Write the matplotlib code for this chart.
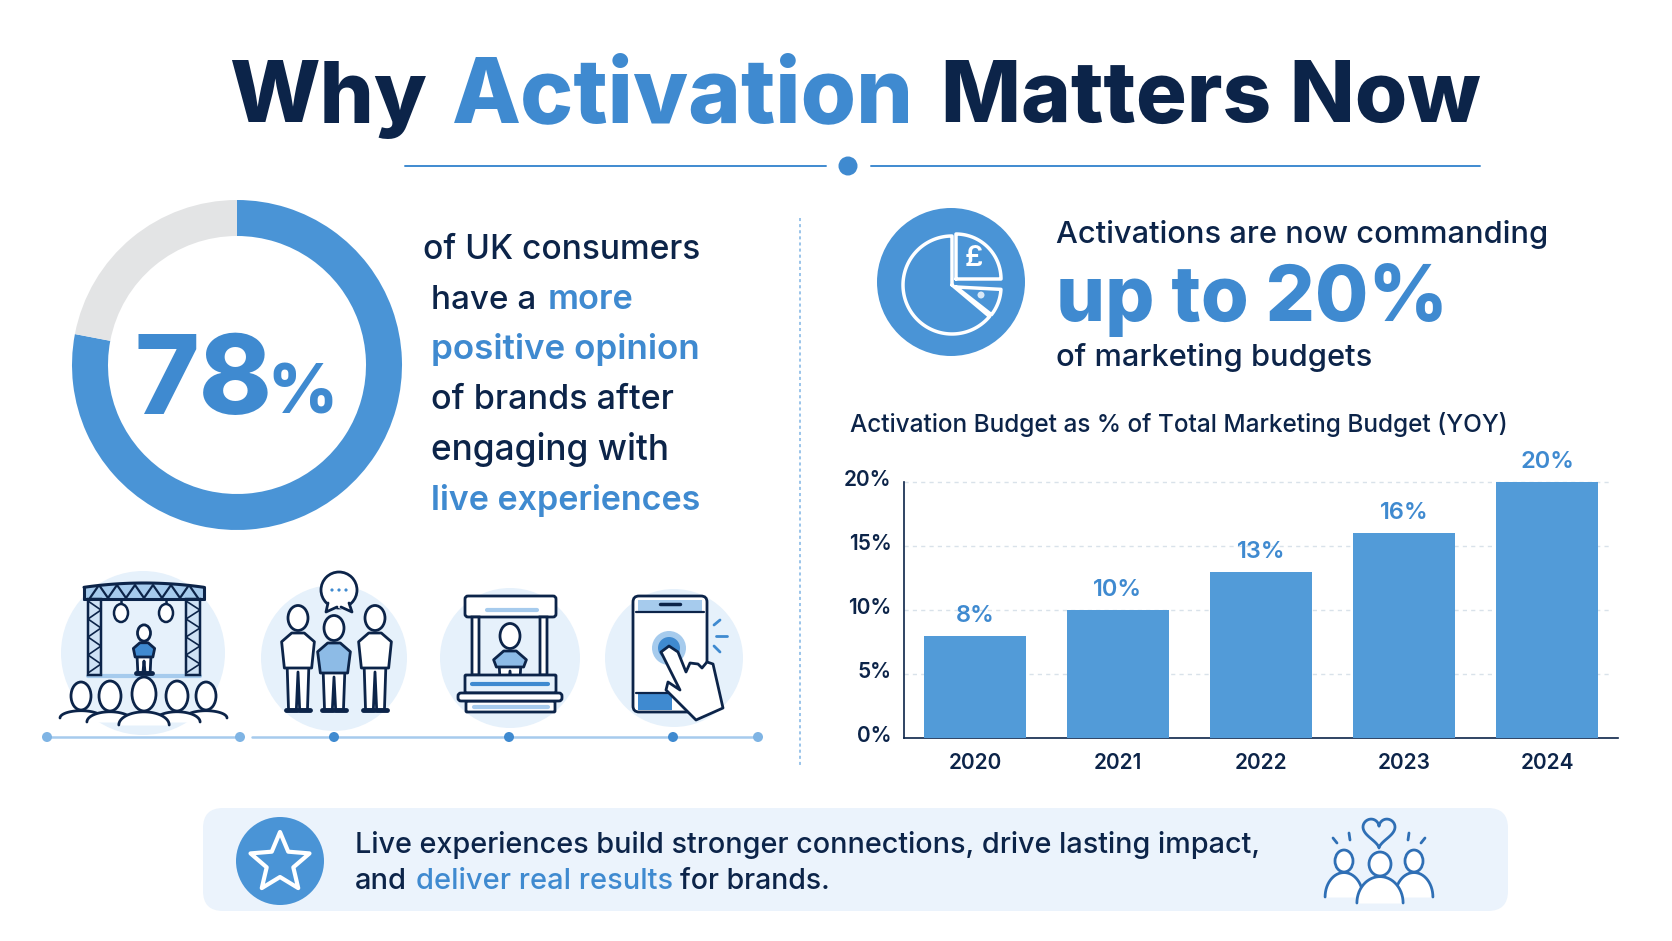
import numpy as np
import matplotlib
matplotlib.use("Agg")
import matplotlib.pyplot as plt
from matplotlib.patches import Circle, Ellipse, FancyBboxPatch, Polygon, Rectangle
from matplotlib.transforms import ScaledTranslation

plt.rcParams['font.family'] = ['Inter', 'DejaVu Sans']

NAVY = '#0c2449'
BLUE = '#3f8ad0'
DONUT = '#4a94d6'
BAR = '#529bd8'
SOFT = '#e6f1fb'
MID = '#a6cbed'

# data
donut_values = [78, 22]
years = ['2020', '2021', '2022', '2023', '2024']
budget_share = [8, 10, 13, 16, 20]
y_ticks = [0, 5, 10, 15, 20]

fig = plt.figure(figsize=(16.72, 9.41), dpi=100, facecolor='white')
ax = fig.add_axes([0, 0, 1, 1])
ax.set_xlim(0, 1672)
ax.set_ylim(941, 0)
ax.axis('off')
renderer = fig.canvas.get_renderer()


def label(x, y, s, width, color=NAVY, weight=500, fs=20):
    """Text at baseline y, font size set so it is width pixels wide"""
    t = ax.text(x, y, s, color=color, fontsize=fs, fontweight=weight, va='baseline', ha='left', zorder=10)
    w = t.get_window_extent(renderer).width
    t.set_fontsize(fs * width / w)
    return t


def line(pts, color=NAVY, lw=2.0, z=5):
    pts = np.array(pts)
    ax.plot(pts[:, 0], pts[:, 1], color=color, lw=lw, zorder=z, solid_capstyle='round', solid_joinstyle='round')


def poly(pts, fc='white', ec=NAVY, lw=2.0, z=5):
    ax.add_patch(Polygon(pts, closed=True, fc=fc, ec=ec, lw=lw, zorder=z, joinstyle='round'))


def disc(x, y, r, fc=SOFT, ec='none', lw=0, z=2):
    ax.add_patch(Circle((x, y), r, fc=fc, ec=ec, lw=lw, zorder=z))


def box(x0, y0, x1, y1, fc='white', ec=NAVY, lw=2.0, z=5, r=2):
    ax.add_patch(FancyBboxPatch((x0, y0), x1 - x0, y1 - y0, boxstyle=f'round,pad=0,rounding_size={r}',
                                fc=fc, ec=ec, lw=lw, zorder=z))


def person(cx, head_y, foot_y, fill='white', scale=1.0, z=6):
    """Standing figure with head, torso and two legs"""
    h = 12.5 * scale
    w = 21 * scale
    hip = head_y + (foot_y - head_y) * 0.50
    poly([(cx - w * 0.45, foot_y), (cx - w * 0.52, hip), (cx + w * 0.52, hip), (cx + w * 0.45, foot_y),
          (cx + w * 0.08, foot_y), (cx, hip + 8), (cx - w * 0.08, foot_y)], fc='white', z=z)
    poly([(cx - w * 0.78, head_y + h * 1.9), (cx - w * 0.3, head_y + h * 1.2), (cx + w * 0.3, head_y + h * 1.2),
          (cx + w * 0.78, head_y + h * 1.9), (cx + w * 0.65, hip + 4), (cx - w * 0.65, hip + 4)], fc=fill, z=z)
    ax.add_patch(Ellipse((cx, head_y), h * 1.6, h * 2, fc='white', ec=NAVY, lw=2, zorder=z + 0.2))
    line([(cx - w * 0.55, foot_y), (cx - w * 0.05, foot_y)], lw=3.5, z=z)
    line([(cx + w * 0.05, foot_y), (cx + w * 0.55, foot_y)], lw=3.5, z=z)


def bust(cx, head_y, rx, ry, bottom, color=NAVY, lw=2.0, z=6):
    """Head with rounded shoulders, as in the audience and the group icon"""
    t = np.linspace(np.pi, 0, 30)
    sx = rx * 2.1
    top = head_y + ry * 1.05
    ax.fill_between(cx + sx * np.cos(t), top + (bottom - top) * (1 - np.sin(t)), bottom, color='white', zorder=z - 0.5, lw=0)
    line(np.c_[cx + sx * np.cos(t), top + (bottom - top) * (1 - np.sin(t))], color=color, lw=lw, z=z)
    ax.add_patch(Ellipse((cx, head_y), rx * 2, ry * 2, fc='white', ec=color, lw=lw, zorder=z))


# title and the rule under it
label(229, 122, 'Why', 198, weight=800, fs=66)
label(452, 122, 'Activation', 462, color=BLUE, weight=800, fs=66)
label(941, 122, 'Matters Now', 540, weight=800, fs=66)
line([(405, 166), (826, 166)], color=BLUE, lw=1.4)
line([(871, 166), (1480, 166)], color=BLUE, lw=1.4)
disc(848, 166, 9.5, fc=BLUE)

# donut
ax_pie = fig.add_axes([(237 - 168) / 1672, 1 - (365 + 168) / 941, 336 / 1672, 336 / 941])
ax_pie.pie(donut_values, colors=[DONUT, '#e3e4e5'], startangle=90, counterclock=False, radius=165 / 168,
           wedgeprops={'width': 36 / 168, 'linewidth': 0})
ax_pie.set_xlim(-1, 1)
ax_pie.set_ylim(-1, 1)
label(134, 414, '78', 138, color=BLUE, weight=800, fs=85)
label(267, 414, '%', 70, color=BLUE, weight=800, fs=60)

# left text block
label(423, 259, 'of UK consumers', 277)
label(431, 309, 'have a', 105)
label(548, 309, 'more', 86, color=BLUE, weight=600)
label(431, 359, 'positive opinion', 270, color=BLUE, weight=600)
label(431, 409, 'of brands after', 242)
label(431, 460, 'engaging with', 238)
label(431, 510, 'live experiences', 270, color=BLUE, weight=600)

# icon 1: stage and audience
disc(143, 653, 82)
t_roof = np.linspace(84, 204, 30)
roof_top = 583 + 0.0012 * (t_roof - 144) ** 2
ax.fill_between(t_roof, roof_top, 599, color=MID, zorder=5, lw=0)
line(np.c_[t_roof, roof_top], lw=2.2, z=6)
line([(84, 599), (204, 599)], lw=2.2, z=6)
line([(84, 587), (84, 599)], lw=2.2, z=6)
line([(204, 587), (204, 599)], lw=2.2, z=6)
for x0 in range(90, 198, 18):
    line([(x0, 598), (x0 + 9, 585), (x0 + 18, 598)], lw=1.6, z=6)
for x0, x1 in [(88, 101), (186, 200)]:
    box(x0, 599, x1, 675, fc='#cfe2f5', r=0, lw=1.8)
    for y0 in range(601, 671, 18):
        line([(x0, y0), (x1, y0 + 9), (x0, y0 + 18)], lw=1.2, z=6)
for x0 in [121, 166]:
    line([(x0, 599), (x0, 607)], lw=1.8)
    ax.add_patch(Ellipse((x0, 613), 14, 18, fc='white', ec=NAVY, lw=1.8, zorder=6))
person(144, 633, 673, fill=BLUE, scale=0.65)
line([(88, 676), (200, 676)], color=MID, lw=3, z=4)
for cx in [81, 206]:
    bust(cx, 696, 10, 14, 718, z=6)
for cx in [110, 177]:
    bust(cx, 696, 11, 15, 722, z=7)
bust(144, 694, 12, 17, 725, z=8)

# icon 2: three people talking
disc(334, 658, 73)
person(298, 618, 710)
person(334, 628, 710, fill='#8dbbe6')
person(375, 618, 710)
disc(339, 590, 18, fc='white', ec=NAVY, lw=2, z=6)
poly([(328, 602), (326, 612), (338, 607), (351, 612), (349, 602)], fc='white', ec='white', lw=1, z=6.5)
line([(328, 603), (326, 612), (337, 607)], lw=2, z=7)
line([(349, 603), (352, 612), (341, 607)], lw=2, z=7)
for dx in [-7, 0, 7]:
    disc(339 + dx, 590, 1.6, fc=BLUE, z=7)

# icon 3: booth
disc(510, 658, 70)
box(465, 596, 556, 617, r=3)
line([(487, 610), (537, 610)], color=MID, lw=3, z=6)
for x0 in [472, 540]:
    box(x0, 617, x0 + 7, 675, r=0)
person(510, 636, 690, fill='#8dbbe6', scale=1.0, z=4)
box(465, 675, 556, 693, r=1, fc=SOFT, z=6)
line([(472, 684), (548, 684)], color=BLUE, lw=3, z=7)
box(458, 693, 562, 701, r=3, z=7)
box(466, 701, 555, 712, r=1, z=6)
line([(474, 707), (548, 707)], color=MID, lw=3, z=7)

# icon 4: phone and hand
disc(674, 658, 69)
box(633, 596, 707, 712, r=6)
ax.add_patch(Rectangle((638, 600), 64, 11, fc=MID, ec='none', zorder=6))
ax.add_patch(Rectangle((638, 693), 34, 17, fc=BLUE, ec='none', zorder=6))
line([(636, 612), (704, 612)], lw=1.6, z=7)
line([(636, 693), (680, 693)], lw=1.6, z=7)
line([(660, 604), (680, 604)], lw=2.5, z=7)
disc(669, 648, 17, fc=MID, z=6)
disc(669, 648, 11, fc=BLUE, z=6.5)
poly([(661, 652), (669, 646), (678, 652), (686, 672), (690, 663), (698, 664), (702, 668), (707, 662), (713, 664),
      (723, 708), (696, 720), (666, 690), (668, 682), (680, 690)], z=8)
line([(714, 625), (720, 620)], color=BLUE, z=6)
line([(716, 636), (727, 636)], color=BLUE, z=6)
line([(714, 646), (720, 652)], color=BLUE, z=6)

# timeline under the icons
line([(47, 737), (240, 737)], color=MID, lw=1.8, z=3)
line([(252, 737), (758, 737)], color=MID, lw=1.8, z=3)
for x0, col in [(47, '#7fb4e4'), (240, '#7fb4e4'), (334, BLUE), (509, BLUE), (673, BLUE), (758, '#7fb4e4')]:
    disc(x0, 737, 5, fc=col, z=4)

# divider
ax.plot([800, 800], [218, 768], color='#7fb4e4', lw=1.1, ls=(0, (2, 2)), zorder=3)

# pie icon and headline
disc(951, 282, 74, fc=DONUT)
arc = np.radians(np.linspace(90, 320, 120))
line(np.r_[[(952, 285)], np.c_[952 + 49 * np.cos(arc), 285 - 49 * np.sin(arc)], [(952, 285)]], color='white', lw=2.5, z=6)
arc = np.radians(np.linspace(0, 90, 40))
line(np.r_[[(956, 279)], np.c_[956 + 45 * np.cos(arc), 279 - 45 * np.sin(arc)], [(956, 279)]], color='white', lw=2.5, z=6)
arc = np.radians(np.linspace(-38, -3, 20))
line(np.r_[[(956, 287)], np.c_[956 + 45 * np.cos(arc), 287 - 45 * np.sin(arc)], [(956, 287)]], color='white', lw=2.5, z=6)
ax.text(974, 259, '£', color='white', fontsize=21, fontweight=600, ha='center', va='center', zorder=7)
disc(981, 295, 3.5, fc='#d8e8f7', z=7)

label(1056, 243, 'Activations are now commanding', 491)
label(1056, 321, 'up to 20%', 392, color=BLUE, weight=800, fs=50)
label(1056, 366, 'of marketing budgets', 315)

# bar chart
label(850, 432, 'Activation Budget as % of Total Marketing Budget (YOY)', 658)
ax_bar = fig.add_axes([904 / 1672, 1 - 738 / 941, 714 / 1672, 256 / 941])
ax_bar.patch.set_alpha(0)
x = np.arange(len(years))
bars = ax_bar.bar(x, budget_share, width=0.713, color=BAR, zorder=3)
ax_bar.bar_label(bars, labels=[f'{v}%' for v in budget_share], padding=6.5, color=BLUE, fontsize=17, fontweight=600)
ax_bar.set_xlim(-0.4965, 4.4965)
ax_bar.set_ylim(0, 20)
ax_bar.set_xticks(x, years)
ax_bar.set_yticks(y_ticks, [f'{v}%' for v in y_ticks])
ax_bar.tick_params(axis='both', length=0, labelsize=15, labelcolor=NAVY)
ax_bar.tick_params(axis='x', pad=11)
ax_bar.tick_params(axis='y', pad=9)
for tick in ax_bar.get_xticklabels() + ax_bar.get_yticklabels():
    tick.set_fontweight(600)
# y labels sit a little above their gridlines
lift = ScaledTranslation(0, 4 / 100, fig.dpi_scale_trans)
for tick in ax_bar.get_yticklabels():
    tick.set_transform(tick.get_transform() + lift)
ax_bar.hlines(y_ticks[1:], -0.4965, 4.44, color='#d9e2ea', lw=1.0, ls=(0, (3, 3)), zorder=0, clip_on=False)
for side in ['top', 'right']:
    ax_bar.spines[side].set_visible(False)
for side in ['left', 'bottom']:
    ax_bar.spines[side].set_color(NAVY)
    ax_bar.spines[side].set_linewidth(1.2)

# bottom banner
box(203, 808, 1508, 911, fc='#ebf3fc', ec='none', lw=0, z=1, r=20)
disc(280, 861, 44, fc=DONUT, z=3)
ang = np.radians(np.arange(10) * 36 - 90)
rad = np.where(np.arange(10) % 2 == 0, 31, 14)
poly(np.c_[280 + rad * np.cos(ang), 863 + rad * np.sin(ang)], fc=DONUT, ec='white', lw=3, z=4)
label(355, 853, 'Live experiences build stronger connections, drive lasting impact,', 904)
label(355, 889, 'and', 52)
label(416, 889, 'deliver real results', 256, color=BLUE)
label(680, 889, 'for brands.', 150)

# group icon in the banner
ICON = '#2f6fb5'
bust(1344, 861, 9, 11, 897, color=ICON, z=4)
bust(1414, 861, 9, 11, 897, color=ICON, z=4)
bust(1380, 864, 11, 12, 903, color=ICON, z=5)
th = np.linspace(0, 2 * np.pi, 80)
line(np.c_[1379 + 16 * np.sin(th) ** 3, 831 - (13 * np.cos(th) - 5 * np.cos(2 * th) - 2 * np.cos(3 * th) - np.cos(4 * th))],
     color=ICON, z=5)
line([(1349, 833), (1350, 840)], color=ICON, z=5)
line([(1409, 833), (1408, 840)], color=ICON, z=5)
line([(1333, 838), (1337, 843)], color=ICON, z=5)
line([(1425, 838), (1421, 843)], color=ICON, z=5)

fig.savefig('out.png', dpi=100)
